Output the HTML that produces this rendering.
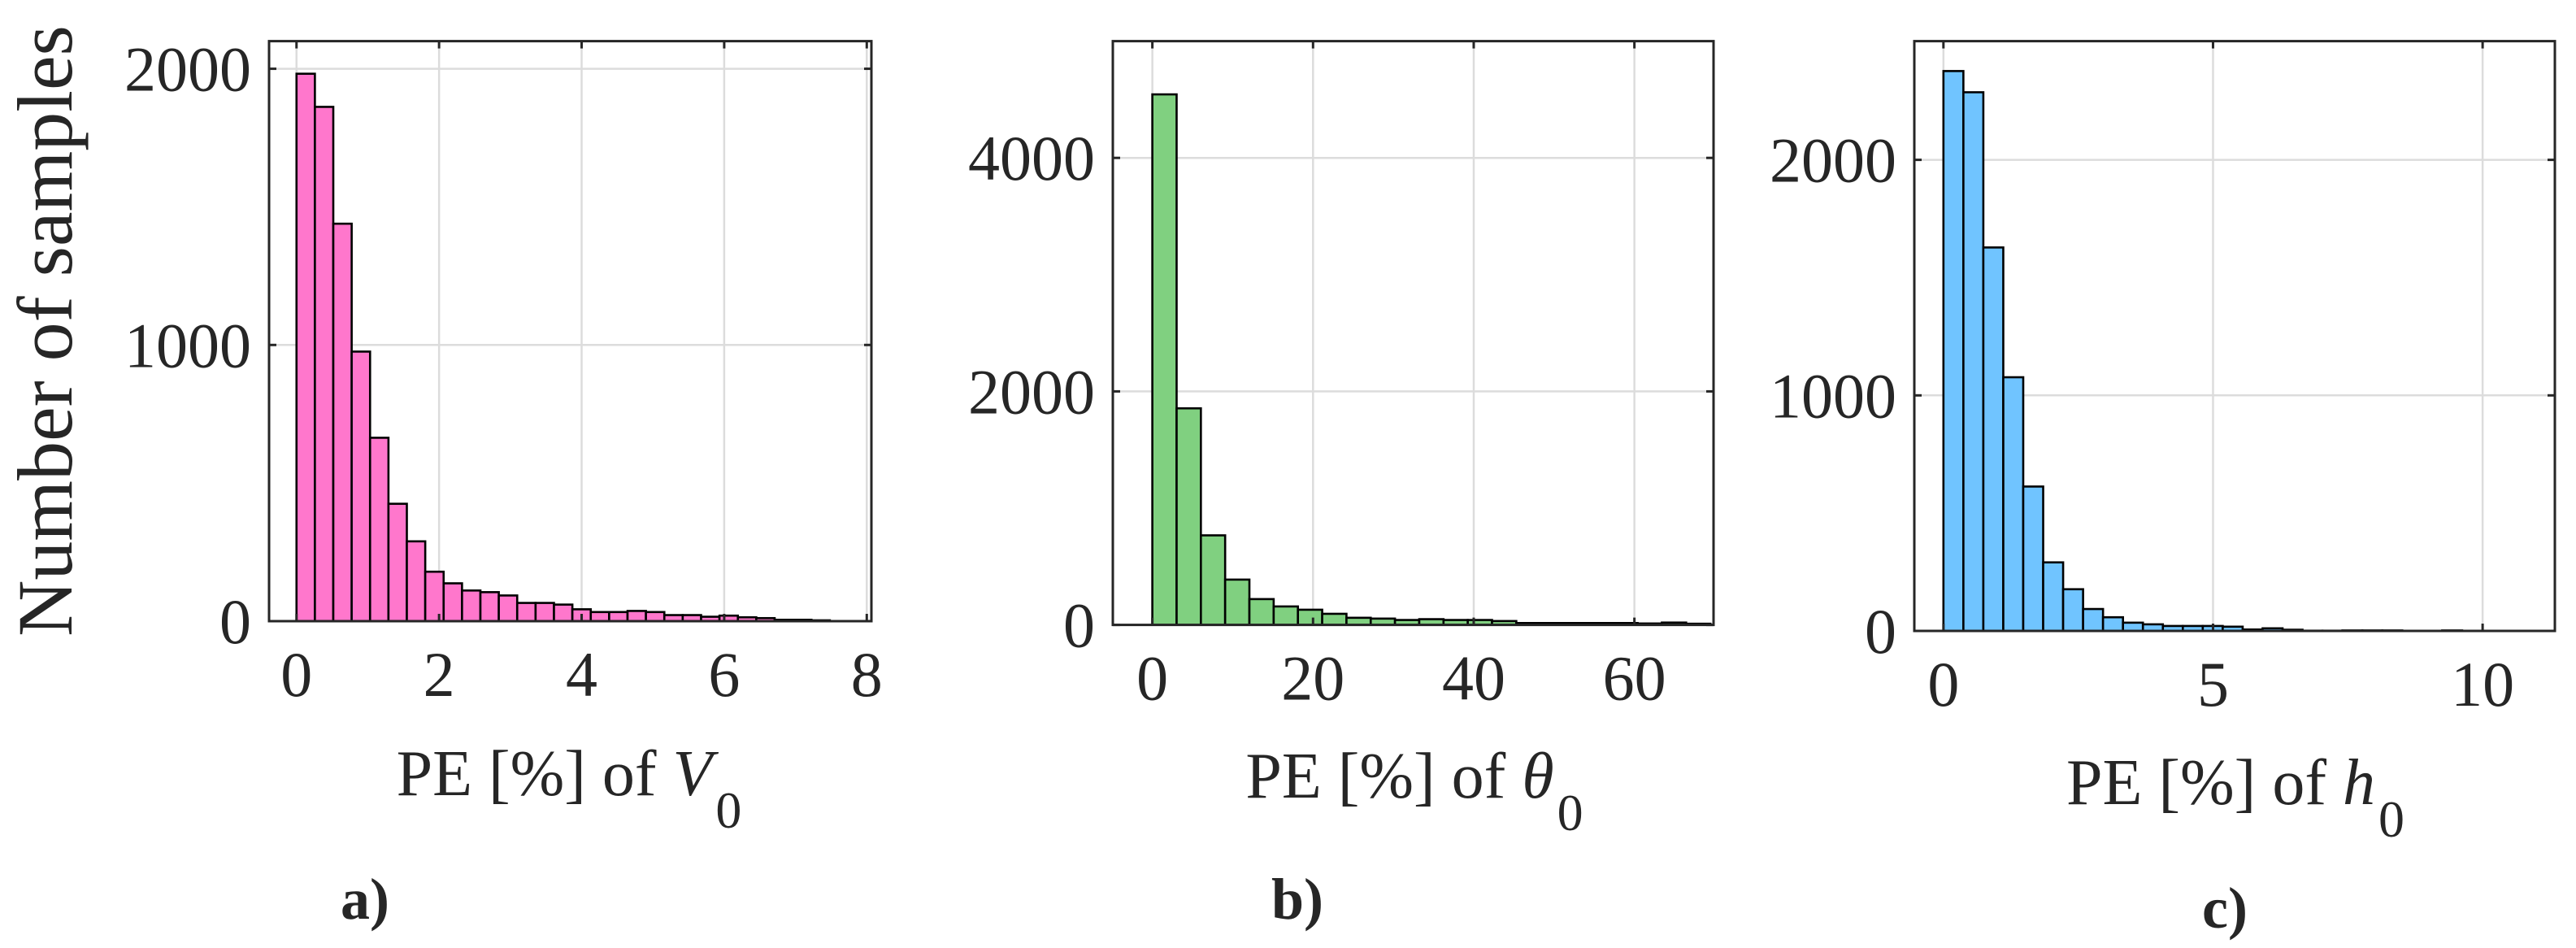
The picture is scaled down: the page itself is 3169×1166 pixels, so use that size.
<!DOCTYPE html>
<html><head><meta charset="utf-8">
<style>
html,body{margin:0;padding:0;background:#fff;}
svg{display:block;}
text{font-family:"Liberation Serif",serif;fill:#262626;}
</style></head>
<body>
<svg id="fig" width="3169" height="1166" viewBox="0 0 3169 1166" xmlns="http://www.w3.org/2000/svg"></svg>
<script>
// Panel a data (PE of V0)
const aCounts = [1982,1862,1439,976,664,425,289,179,137,111,105,93,66,66,60,43,33,33,37,33,22,22,16,20,14,11,5,5,3];
const aBinWidth = 0.258;
const aXTicks = [0,2,4,6,8];
const aYTicks = [0,1000,2000];
// Panel b data (PE of theta0)
const bCounts = [4544,1855,767,388,221,158,130,95,61,54,42,49,42,42,33,16,16,16,16,16,12,20,10];
const bBinWidth = 3.02;
const bXTicks = [0,20,40,60];
const bYTicks = [0,2000,4000];
// Panel c data (PE of h0)
const cCounts = [2377,2287,1628,1077,613,291,177,93,58,35,28,21,21,21,18,6,11,5,1,1,2,2,2,0,0,2,0,0];
const cBinWidth = 0.37;
const cXTicks = [0,5,10];
const cYTicks = [0,1000,2000];

const NS = "http://www.w3.org/2000/svg";
const svg = document.getElementById('fig');
function mk(tag, attrs, parent){
  const e = document.createElementNS(NS, tag);
  for (const k in attrs) e.setAttribute(k, attrs[k]);
  (parent||svg).appendChild(e);
  return e;
}

const panels = [
  {key:'a', counts:aCounts, bw:aBinWidth, xt:aXTicks, yt:aYTicks, color:'#ff77cc',
   L:331, R:1072, T:50.6, B:764, xmin:-0.385, xmax:8.065, ymax:2100,
   lab:{x:700, y:978, sym:'V', sub:'0'}, tag:{x:449, y:1130, t:'a)'}},
  {key:'b', counts:bCounts, bw:bBinWidth, xt:bXTicks, yt:bYTicks, color:'#80d080',
   L:1369, R:2108, T:50.6, B:768.6, xmin:-4.92, xmax:69.85, ymax:5000,
   lab:{x:1740, y:981, sym:'θ', sub:'0'}, tag:{x:1596, y:1130, t:'b)'}},
  {key:'c', counts:cCounts, bw:cBinWidth, xt:cXTicks, yt:cYTicks, color:'#70c4ff',
   L:2355, R:3143, T:50.6, B:776, xmin:-0.54, xmax:11.34, ymax:2504,
   lab:{x:2750, y:989, sym:'h', sub:'0'}, tag:{x:2737, y:1141, t:'c)'}}
];

panels.forEach(p=>{
  const g = mk('g', {});
  
  
  const sx = v => p.L + (v - p.xmin) / (p.xmax - p.xmin) * (p.R - p.L);
  const sy = v => p.B - v / p.ymax * (p.B - p.T);
  p.xt.forEach(t=>{
    const l = mk('line', {x1:sx(t), x2:sx(t), y1:p.T, y2:p.B, stroke:'#dcdcdc', 'stroke-width':2.5}, g);
    
    
  });
  p.yt.forEach(t=>{
    const l = mk('line', {x1:p.L, x2:p.R, y1:sy(t), y2:sy(t), stroke:'#dcdcdc', 'stroke-width':2.5}, g);
    
    
  });
  p.counts.forEach((c,i)=>{
    const x0 = sx(i*p.bw), x1 = sx((i+1)*p.bw);
    const r = mk('rect', {x:x0, y:sy(c), width:x1-x0, height:sy(0)-sy(c), fill:p.color, stroke:'#000', 'stroke-width':2.6}, g);
    
    
  });
  const box = mk('rect', {x:p.L, y:p.T, width:p.R-p.L, height:p.B-p.T, fill:'none', stroke:'#262626', 'stroke-width':3}, g);
  
  
  p.xt.forEach(t=>{
    mk('line', {x1:sx(t), x2:sx(t), y1:p.B, y2:p.B-9, stroke:'#262626', 'stroke-width':3}, g);
    mk('line', {x1:sx(t), x2:sx(t), y1:p.T, y2:p.T+9, stroke:'#262626', 'stroke-width':3}, g);
    const tx = mk('text', {x:sx(t), y:p.B+92, 'font-size':78, 'text-anchor':'middle'}, g);
    tx.textContent = t;
    
    
  });
  p.yt.forEach(t=>{
    mk('line', {x1:p.L, x2:p.L+9, y1:sy(t), y2:sy(t), stroke:'#262626', 'stroke-width':3}, g);
    mk('line', {x1:p.R, x2:p.R-9, y1:sy(t), y2:sy(t), stroke:'#262626', 'stroke-width':3}, g);
    const ty = mk('text', {x:p.L-22, y:sy(t)+27, 'font-size':78, 'text-anchor':'end'}, g);
    ty.textContent = t;
    
    
  });
  const xl = mk('text', {x:p.lab.x, y:p.lab.y, 'font-size':80, 'text-anchor':'middle'}, g);
  
  
  const t1 = mk('tspan', {}, xl); t1.textContent = 'PE [%] of ';
  const t2 = mk('tspan', {'font-style':'italic'}, xl); t2.textContent = p.lab.sym;
  const t3 = mk('tspan', {dy:40, dx:4, 'font-size':64}, xl); t3.textContent = p.lab.sub;
  const tg = mk('text', {x:p.tag.x, y:p.tag.y, 'font-size':72, 'font-weight':'bold', 'text-anchor':'middle'}, g);
  tg.textContent = p.tag.t;
  
  
});

const yl = mk('text', {x:0, y:0, 'font-size':96, 'text-anchor':'middle', transform:'translate(88,407) rotate(-90)'});
yl.textContent = 'Number of samples';


</script>
</body></html>
